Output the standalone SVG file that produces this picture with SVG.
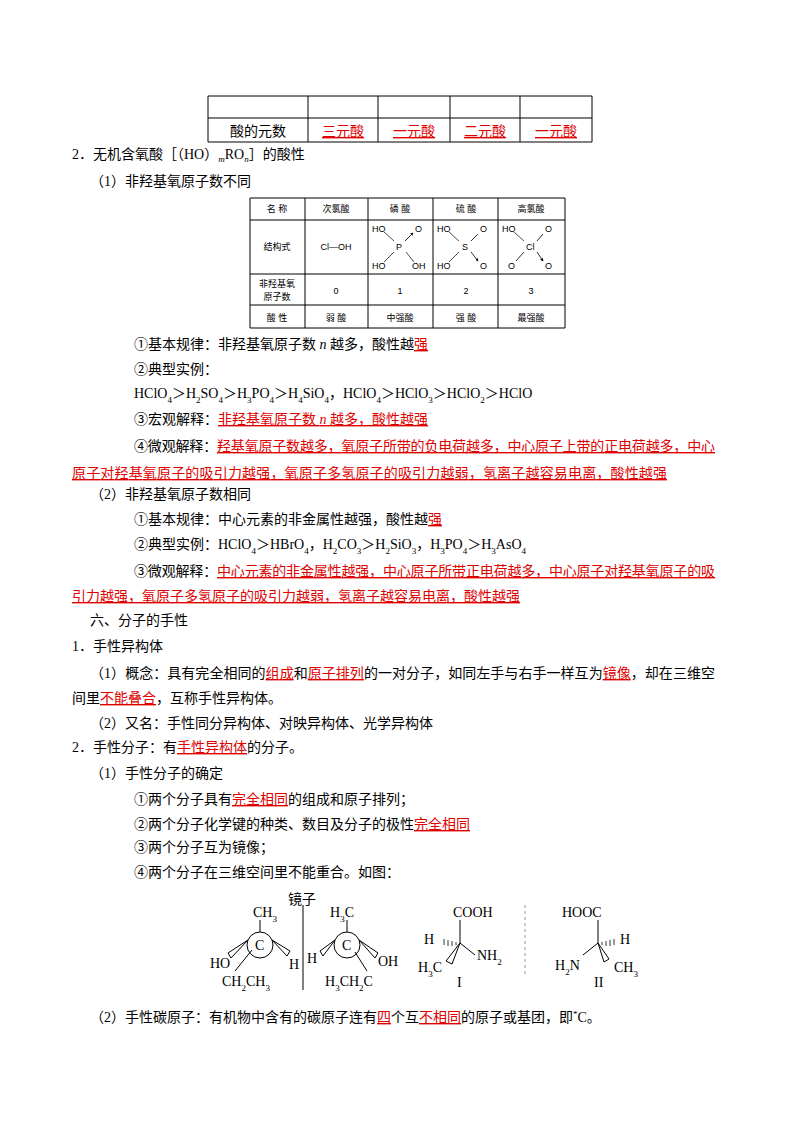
<svg xmlns="http://www.w3.org/2000/svg" width="800" height="1132" viewBox="0 0 800 1132">
<defs>
<marker id="ah" viewBox="0 0 6 6" refX="5" refY="3" markerWidth="4" markerHeight="4" orient="auto"><path d="M0 0L6 3L0 6Z" fill="#000"/></marker>
</defs>
<style>
text{font-family:"Liberation Serif","Noto Sans CJK SC",serif;font-size:14px;fill:#000}
.r{fill:#e00000;text-decoration:underline}
.s{font-size:9px;font-family:"Liberation Sans","Noto Sans CJK SC",sans-serif}
.b{font-size:9px;baseline-shift:sub}
.g line,.g path{stroke:#000;fill:none}
.a{marker-end:url(#ah)}
</style>
<rect width="800" height="1132" fill="#fff"/>
<g id="table1" class="g">
<path d="M208 96H592V142H208Z M208 118H592 M308 96V142 M378 96V142 M450 96V142 M520 96V142" stroke-width="1"/>
<text x="258" y="136" text-anchor="middle">酸的元数</text>
<text x="343" y="136" text-anchor="middle" class="r">三元酸</text>
<text x="414" y="136" text-anchor="middle" class="r">一元酸</text>
<text x="485" y="136" text-anchor="middle" class="r">二元酸</text>
<text x="556" y="136" text-anchor="middle" class="r">一元酸</text>
</g>
<text x="72" y="159">2．无机含氧酸［（HO）<tspan font-size="9" dy="3" font-style="italic">m</tspan><tspan dy="-3">RO</tspan><tspan font-size="9" dy="3" font-style="italic">n</tspan><tspan dy="-3">］的酸性</tspan></text>
<text x="90" y="186">（1）非羟基氧原子数不同</text>
<g id="table2" class="g">
<path d="M250 198H565V328H250Z M250 220H565 M250 274H565 M250 305H565 M305 198V328 M368 198V328 M433 198V328 M498 198V328" stroke-width="1"/>
<text class="s" x="277" y="212" text-anchor="middle">名  称</text>
<text class="s" x="336" y="212" text-anchor="middle">次氯酸</text>
<text class="s" x="400" y="212" text-anchor="middle">磷  酸</text>
<text class="s" x="466" y="212" text-anchor="middle">硫  酸</text>
<text class="s" x="531" y="212" text-anchor="middle">高氯酸</text>
<text class="s" x="277" y="250" text-anchor="middle">结构式</text>
<text class="s" x="336" y="250" text-anchor="middle">Cl—OH</text>
<text class="s" x="277" y="287" text-anchor="middle">非羟基氧</text>
<text class="s" x="277" y="300" text-anchor="middle">原子数</text>
<text class="s" x="336" y="294" text-anchor="middle">0</text>
<text class="s" x="400" y="294" text-anchor="middle">1</text>
<text class="s" x="466" y="294" text-anchor="middle">2</text>
<text class="s" x="531" y="294" text-anchor="middle">3</text>
<text class="s" x="277" y="321" text-anchor="middle">酸  性</text>
<text class="s" x="336" y="321" text-anchor="middle">弱  酸</text>
<text class="s" x="400" y="321" text-anchor="middle">中强酸</text>
<text class="s" x="466" y="321" text-anchor="middle">强  酸</text>
<text class="s" x="531" y="321" text-anchor="middle">最强酸</text>
<text class="s" x="372" y="232">HO</text><text class="s" x="415" y="232">O</text>
<text class="s" x="396" y="250">P</text>
<text class="s" x="372" y="269">HO</text><text class="s" x="412" y="269">OH</text>
<path d="M384 232L394 241 M394 252L384 262 M406 252L414 262" stroke-width="0.7"/>
<path class="a" d="M405 241L413 233" stroke-width="0.8"/>
<text class="s" x="437" y="232">HO</text><text class="s" x="480" y="232">O</text>
<text class="s" x="462" y="250">S</text>
<text class="s" x="437" y="269">HO</text><text class="s" x="480" y="269">O</text>
<path d="M449 232L459 241 M459 252L449 262" stroke-width="0.7"/>
<path class="a" d="M471 241L478 234 M471 252L478 261" stroke-width="0.8"/>
<text class="s" x="502" y="232">HO</text><text class="s" x="545" y="232">O</text>
<text class="s" x="526" y="250">Cl</text>
<text class="s" x="508" y="269">O</text><text class="s" x="545" y="269">O</text>
<path d="M514 232L524 241" stroke-width="0.7"/>
<path class="a" d="M537 241L543 234 M524 252L516 261 M537 252L543 261" stroke-width="0.8"/>
</g>
<text x="134" y="349">①基本规律：非羟基氧原子数 <tspan font-style="italic">n</tspan> 越多，酸性越<tspan class="r">强</tspan></text>
<text x="134" y="374">②典型实例：</text>
<text x="134" y="398">HClO<tspan class="b">4</tspan>＞H<tspan class="b">2</tspan>SO<tspan class="b">4</tspan>＞H<tspan class="b">3</tspan>PO<tspan class="b">4</tspan>＞H<tspan class="b">4</tspan>SiO<tspan class="b">4</tspan>，HClO<tspan class="b">4</tspan>＞HClO<tspan class="b">3</tspan>＞HClO<tspan class="b">2</tspan>＞HClO</text>
<text x="134" y="424">③宏观解释：<tspan class="r">非羟基氧原子数 <tspan font-style="italic">n</tspan> 越多，酸性越强</tspan></text>
<text x="134" y="451" textLength="581">④微观解释：<tspan class="r">羟基氧原子数越多，氧原子所带的负电荷越多，中心原子上带的正电荷越多，中心</tspan></text>
<text x="72" y="478" class="r" textLength="595">原子对羟基氧原子的吸引力越强，氧原子多氢原子的吸引力越弱，氢离子越容易电离，酸性越强</text>
<text x="90" y="499">（2）非羟基氧原子数相同</text>
<text x="134" y="524">①基本规律：中心元素的非金属性越强，酸性越<tspan class="r">强</tspan></text>
<text x="134" y="549">②典型实例：HClO<tspan class="b">4</tspan>＞HBrO<tspan class="b">4</tspan>，H<tspan class="b">2</tspan>CO<tspan class="b">3</tspan>＞H<tspan class="b">2</tspan>SiO<tspan class="b">3</tspan>，H<tspan class="b">3</tspan>PO<tspan class="b">4</tspan>＞H<tspan class="b">3</tspan>AsO<tspan class="b">4</tspan></text>
<text x="134" y="576" textLength="581">③微观解释：<tspan class="r">中心元素的非金属性越强，中心原子所带正电荷越多，中心原子对羟基氧原子的吸</tspan></text>
<text x="72" y="601" class="r">引力越强，氧原子多氢原子的吸引力越弱，氢离子越容易电离，酸性越强</text>
<text x="90" y="625">六、分子的手性</text>
<text x="72" y="651">1．手性异构体</text>
<text x="90" y="678" textLength="625">（1）概念：具有完全相同的<tspan class="r">组成</tspan>和<tspan class="r">原子排列</tspan>的一对分子，如同左手与右手一样互为<tspan class="r">镜像</tspan>，却在三维空</text>
<text x="72" y="703">间里<tspan class="r">不能叠合</tspan>，互称手性异构体。</text>
<text x="90" y="728">（2）又名：手性同分异构体、对映异构体、光学异构体</text>
<text x="72" y="752">2．手性分子：有<tspan class="r">手性异构体</tspan>的分子。</text>
<text x="90" y="778">（1）手性分子的确定</text>
<text x="134" y="804">①两个分子具有<tspan class="r">完全相同</tspan>的组成和原子排列；</text>
<text x="134" y="829">②两个分子化学键的种类、数目及分子的极性<tspan class="r">完全相同</tspan></text>
<text x="134" y="852">③两个分子互为镜像；</text>
<text x="134" y="877">④两个分子在三维空间里不能重合。如图：</text>
<g id="mol1" class="g">
<line x1="260" y1="920" x2="260" y2="932"/>
<circle cx="260" cy="945" r="13" fill="none" stroke="#000"/>
<path d="M252 950L235 971"/>
<path d="M248 940L228 953L231 958Z M272 940L290 951L287 956Z" fill="#000"/>
<text x="253" y="917">CH<tspan class="b">3</tspan></text>
<text x="255" y="950">C</text>
<text x="210" y="968">HO</text>
<text x="289" y="969">H</text>
<text x="222" y="986">CH<tspan class="b">2</tspan>CH<tspan class="b">3</tspan></text>
</g>
<g id="mirror" class="g">
<line x1="303" y1="905" x2="303" y2="990"/>
<text x="288" y="904">镜子</text>
</g>
<g id="mol2" class="g">
<line x1="347" y1="920" x2="347" y2="932"/>
<circle cx="347" cy="945" r="13" fill="none" stroke="#000"/>
<path d="M355 952L367 971"/>
<path d="M335 940L320 951L323 956Z M359 940L378 953L375 958Z" fill="#000"/>
<text x="330" y="917">H<tspan class="b">3</tspan>C</text>
<text x="342" y="950">C</text>
<text x="307" y="963">H</text>
<text x="378" y="966">OH</text>
<text x="325" y="986">H<tspan class="b">3</tspan>CH<tspan class="b">2</tspan>C</text>
</g>
<g id="mol3" class="g">
<line x1="460" y1="920" x2="460" y2="943"/>
<line x1="460" y1="943" x2="475" y2="955"/>
<path d="M460 943L446 961L452 964Z" fill="#000"/>
<path d="M444 939V945 M448 940V946 M452 941V946 M456 942V945" stroke-width="0.8"/>
<text x="453" y="917">COOH</text>
<text x="424" y="944">H</text>
<text x="477" y="960">NH<tspan class="b">2</tspan></text>
<text x="418" y="972">H<tspan class="b">3</tspan>C</text>
<text x="457" y="987">I</text>
</g>
<line x1="525" y1="905" x2="525" y2="975" stroke="#999" stroke-dasharray="3,3"/>
<g id="mol4" class="g">
<line x1="598" y1="920" x2="598" y2="943"/>
<line x1="598" y1="943" x2="583" y2="955"/>
<path d="M598 943L609 959L604 962Z" fill="#000"/>
<path d="M602 942V945 M606 941V946 M610 940V946 M614 939V945" stroke-width="0.8"/>
<text x="562" y="917">HOOC</text>
<text x="620" y="944">H</text>
<text x="555" y="970">H<tspan class="b">2</tspan>N</text>
<text x="614" y="972">CH<tspan class="b">3</tspan></text>
<text x="594" y="987">II</text>
</g>
<text x="90" y="1022">（2）手性碳原子：有机物中含有的碳原子连有<tspan class="r">四</tspan>个互<tspan class="r">不相同</tspan>的原子或基团，即<tspan font-size="9" dy="-5">*</tspan><tspan dy="5">C。</tspan></text>
</svg>
